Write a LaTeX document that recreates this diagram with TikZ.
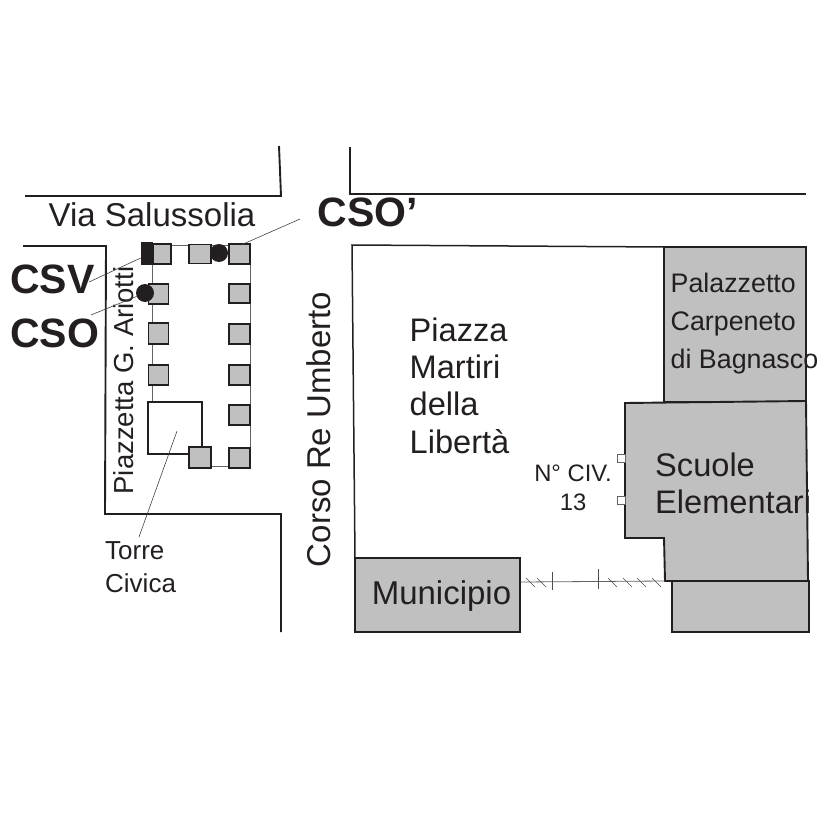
\documentclass[tikz,border=0pt]{standalone}
\usepackage{fontspec}
\setmainfont{Liberation Sans}
\definecolor{ink}{HTML}{231F20}
\definecolor{bldg}{HTML}{C0C0C0}
\tikzset{
	street/.style={draw=ink,line width=1.9pt},
	bldgshape/.style={draw=ink,fill=bldg,line width=1.9pt},
	pillar/.style={rectangle,draw=ink,fill=bldg,line width=1.6pt,inner sep=0pt},
	thin leader/.style={draw=ink!85,line width=0.6pt},
	lbl/.style={text=ink,inner sep=0pt},
	sensor/.style={circle,fill=ink,inner sep=0pt,minimum size=18pt},
}

\begin{document}
\begin{tikzpicture}[x=1pt,y=-1pt]
			\useasboundingbox (0,0) rectangle (826,826);
			% streets
			\draw[street] (25,196) -- (281,196) -- (279,146);
			\draw[street] (350,147) -- (350,194) -- (806,194);
			\draw[street] (23,246) -- (106,246) -- (105,514) -- (281,514) -- (281,632);
			\draw[draw=ink,line width=1.5pt] (665,247) -- (352,245) -- (355,558);
			% buildings
			\draw[bldgshape] (664,247) rectangle (806,402);
			\draw[bldgshape] (672,581) rectangle (809,632);
			\draw[bldgshape] (625,403) -- (806,401) -- (808,581) -- (665,581) -- (664,538) -- (625,538) -- cycle;
			\draw (437.5,595) node [bldgshape,minimum width=165pt,minimum height=74pt,inner sep=0pt] (municipio) {};
			\draw (621,458.5) node [rectangle,draw=ink!70,fill=white,line width=0.5pt,minimum size=8pt,inner sep=0pt] (door1) {};
			\draw (621,500.5) node [rectangle,draw=ink!70,fill=white,line width=0.5pt,minimum size=8pt,inner sep=0pt] (door2) {};
			% wall
			\coordinate (wallend) at (665,581);
			\draw[draw=ink!70,line width=0.8pt] (municipio.east |- 0,582) -- (wallend);
			\draw[draw=ink!80,line width=0.5pt] (552,572) -- (552,590) (598,569) -- (598,589);
			\foreach \x in {526,537,608,623,637,652}
				\draw[draw=ink!80,line width=0.5pt] (\x,578) -- (\x+9,587);
			% arcade
			\draw[draw=ink!70,line width=0.7pt] (152,402) -- (152,245) -- (250,245) -- (250,466) -- (202,466);
			\draw[draw=ink,line width=1.5pt] (148,402) rectangle (202,454);
			\foreach \name/\x/\y/\w/\h in {a/162/254/18/20,b/200/254/22/19,c/239.5/254/21/20,
				d/158.5/294/20/20,e/158.5/333.5/20/21,f/158.5/375/20/20,
				g/239.5/293.5/21/19,h/239.5/334/21/20,i/239.5/375/21/20,j/239.5/415/21/20,k/239.5/458/21/20,
				l/200/457.5/22/21}
				\draw (\x,\y) node [pillar,minimum width=\w pt,minimum height=\h pt] (p\name) {};
			\draw (147,253.5) node [rectangle,fill=ink,minimum width=12pt,minimum height=23pt,inner sep=0pt] (csvbox) {};
			\draw (145,293) node [sensor] (csodot) {};
			\draw (219,253) node [sensor] (csopdot) {};
			% labels
			\draw (152,215) node [lbl,font=\fontsize{33}{33}\selectfont] (via) {Via Salussolia};
			\draw (368,212) node [lbl,font=\fontsize{41}{41}\selectfont\bfseries] (csop) {CSO’};
			\draw (52.5,279) node [lbl,font=\fontsize{41}{41}\selectfont\bfseries] (csv) {CSV};
			\draw (54.5,333) node [lbl,font=\fontsize{41}{41}\selectfont\bfseries] (cso) {CSO};
			\draw (124,380.5) node [lbl,rotate=90,font=\fontsize{27.5}{27.5}\selectfont] (ariotti) {Piazzetta G. Ariotti};
			\draw (318.5,429.5) node [lbl,rotate=90,font=\fontsize{33}{33}\selectfont] (corso) {Corso Re Umberto};
			\draw (409.5,385.5) node [lbl,anchor=west,align=left,font=\fontsize{32.6}{37.3}\selectfont] (piazza) {Piazza\\Martiri\\della\\Libertà};
			\draw (670.5,324) node [lbl,anchor=west,align=left,font=\fontsize{26.8}{38}\selectfont] (palazzetto) {Palazzetto\\Carpeneto\\di Bagnasco};
			\draw (655,483) node [lbl,anchor=west,align=left,font=\fontsize{32.6}{37}\selectfont] (scuole) {Scuole\\Elementari};
			\draw (573,487.5) node [lbl,align=center,font=\fontsize{23.8}{29}\selectfont] (civ) {N° CIV.\\13};
			\draw (105,567) node [lbl,anchor=west,align=left,font=\fontsize{26}{33}\selectfont] (torre) {Torre\\Civica};
			\draw (441.5,595.5) node [lbl,font=\fontsize{33}{33}\selectfont] (municipiotxt) {Municipio};
			% leaders
			\coordinate (towermid) at (177,431);
			\coordinate (torretop) at (139,537);
			\coordinate (csvend) at (89,282);
			\coordinate (csoend) at (91,315);
			\coordinate (csopend) at (300,219);
			\coordinate (csopstart) at (241,245);
			\path[thin leader]
				(csvend) edge (csvbox.west |- 0,258)
				(csoend) edge (csodot)
				(csopend) edge (csopstart)
				(torretop) edge (towermid);
		\end{tikzpicture}
\end{document}
